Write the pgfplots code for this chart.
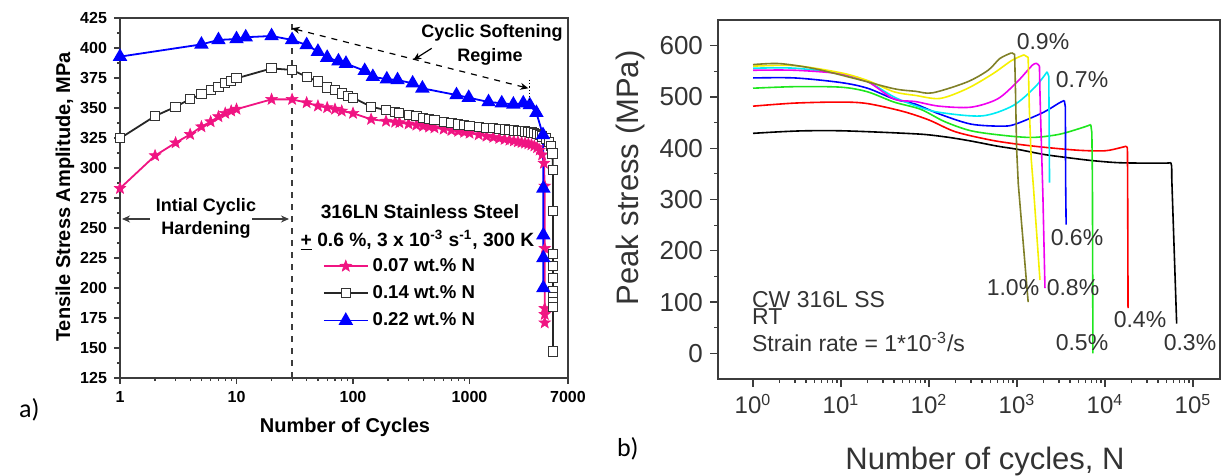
\documentclass[border=0pt]{standalone}
\usepackage{pgfplots}
\pgfplotsset{compat=1.18}
\usepackage{fontspec}
\setmainfont{Liberation Sans}
\newfontfamily\calibri{Carlito}
\usetikzlibrary{arrows.meta}

\definecolor{pinkc}{RGB}{240,20,130}
\definecolor{olivec}{RGB}{128,128,40}
\definecolor{yelc}{RGB}{245,240,0}
\definecolor{grnc}{RGB}{30,230,30}
\definecolor{cyc}{RGB}{0,235,245}
\definecolor{magc}{RGB}{240,0,240}
\definecolor{bluec}{RGB}{0,0,255}
\definecolor{redc}{RGB}{255,0,0}
\definecolor{axc}{RGB}{60,60,60}

\pgfdeclareplotmark{fstar}{%
 \pgfpathmoveto{\pgfpointpolar{90}{1\pgfplotmarksize}}%
 \pgfpathlineto{\pgfpointpolar{126}{0.42\pgfplotmarksize}}%
 \pgfpathlineto{\pgfpointpolar{162}{1\pgfplotmarksize}}%
 \pgfpathlineto{\pgfpointpolar{198}{0.42\pgfplotmarksize}}%
 \pgfpathlineto{\pgfpointpolar{234}{1\pgfplotmarksize}}%
 \pgfpathlineto{\pgfpointpolar{270}{0.42\pgfplotmarksize}}%
 \pgfpathlineto{\pgfpointpolar{306}{1\pgfplotmarksize}}%
 \pgfpathlineto{\pgfpointpolar{342}{0.42\pgfplotmarksize}}%
 \pgfpathlineto{\pgfpointpolar{18}{1\pgfplotmarksize}}%
 \pgfpathlineto{\pgfpointpolar{54}{0.42\pgfplotmarksize}}%
 \pgfpathclose\pgfusepathqfillstroke}

\begin{document}
\begin{tikzpicture}
\useasboundingbox (0,0) rectangle (610.5pt,238pt);

% ---------------- panel a ----------------
\begin{axis}[
  at={(60pt,49pt)}, anchor=south west, scale only axis,
  width=224pt, height=180pt,
  xmode=log, xmin=1, xmax=7000, ymin=125, ymax=425,
  xtick={1,10,100,1000}, xticklabels={1,10,100,1000},
  extra x ticks={7000}, extra x tick labels={7000},
  ytick={125,150,...,425}, minor y tick num=1,
  tick align=outside, xtick pos=bottom, ytick pos=left,
  major tick length=3pt, minor tick length=1.6pt,
  tick label style={font=\fontsize{8}{9}\selectfont\bfseries},
  /pgf/number format/assume math mode=true,
  axis line style={line width=0.8pt, axc},
  every tick/.style={axc, line width=0.6pt},
  legend style={at={(0.452,0.345)}, anchor=north west, draw=none, fill=none,
    font=\fontsize{9.3}{10}\selectfont\bfseries, row sep=1.6pt, inner sep=0pt},
  legend cell align=left,
  legend image code/.code={\draw[mark repeat=2,mark phase=2,#1] plot coordinates {(0pt,0pt) (11pt,0pt) (22pt,0pt)};},
]
\addplot[pinkc, line width=0.9pt, mark=fstar, mark size=3pt, mark options={solid,fill=pinkc,line width=0.3pt}] coordinates {
(1,283)(2,310.3)(3,321)(4,328)(5,334.4)(6,338.6)(7,342.8)(8,345.6)(9,347.5)(10,349)(20,357.2)(30,357.2)(40,354.4)(50,351.7)(60,350.3)(70,349)(80,347.5)(100,345.6)(143,340.6)(192,339)(230,338.3)(250,337.8)(300,336.7)(350,335.7)(400,334.9)(450,334.2)(500,333.5)(600,332.4)(700,331.4)(800,330.6)(900,329.8)(1000,329.0)(1200,327.7)(1400,326.5)(1600,325.6)(1800,324.7)(2000,323.9)(2200,323.2)(2400,322.6)(2600,321.9)(2800,321.3)(3000,320.8)(3200,320.2)(3400,319.4)(3600,318.4)(3800,317.0)(4000,315.0)(4200,311)(4350,304)(4420,285)(4420,233)(4420,183)(4420,178)(4420,171)};
\addlegendentry{0.07 wt.\% N}
\addplot[black!85, line width=0.9pt, mark=square*, mark size=2.3pt, mark options={solid,fill=white,draw=black!80,line width=0.5pt}] coordinates {
(1,324.7)(2,343.3)(3,351)(4,357.5)(5,361.4)(6,365)(7,367.8)(8,370.6)(9,372.5)(10,374.7)(20,383)(30,381.7)(40,376)(50,372)(60,367)(70,365)(80,362)(90,360)(100,358.6)(143,351)(192,348.3)(230,346.4)(250,345.7)(300,344.2)(350,343.0)(400,341.9)(450,340.9)(500,340.1)(600,338.6)(700,337.3)(800,336.2)(900,335.5)(1000,335.0)(1200,334.2)(1400,333.6)(1600,333.0)(1800,332.5)(2000,332.1)(2200,331.7)(2400,331.3)(2600,331.0)(2800,330.7)(3000,330.4)(3200,330.0)(3400,329.5)(3600,329.0)(3800,328.2)(4000,327.3)(4200,326.3)(4500,324.5)(4800,321.5)(5000,318.5)(5150,312)(5200,298)(5200,264)(5200,228)(5200,218)(5200,208)(5200,197)(5200,192)(5200,188)(5200,184)(5200,147)};
\addlegendentry{0.14 wt.\% N}
\addplot[bluec, line width=0.9pt, mark=triangle*, mark size=3.3pt, mark options={solid,fill=bluec}] coordinates {
(1,392.8)(5,403)(7,406.7)(10,407.5)(12,409)(20,410)(30,406.7)(40,402.5)(50,397)(60,392)(75,389)(87,387)(126,381)(148,376)(195,374)(241,373.3)(325,370.6)(394,366.4)(773,360.8)(984,358.6)(1456,355)(1891,354)(2378,353)(2893,354)(3290,352.5)(3750,346)(4272,327.5)(4300,283)(4300,244)(4300,225)(4300,200)};
\addlegendentry{0.22 wt.\% N}
\draw[axc, dashed, line width=0.7pt] (axis cs:30,125) -- (axis cs:30,425);
\end{axis}

% annotations panel a
\node[font=\fontsize{9}{10}\selectfont\bfseries] at (103pt,134.7pt) {Intial Cyclic};
\node[font=\fontsize{9}{10}\selectfont\bfseries] at (103pt,123pt) {Hardening};
\draw[-{Stealth[length=4pt,width=3.5pt]}, axc, line width=0.6pt] (75pt,128.5pt) -- (61pt,128.5pt);
\draw[-{Stealth[length=4pt,width=3.5pt]}, axc, line width=0.6pt] (126pt,128.5pt) -- (144.5pt,128.5pt);
\node[font=\fontsize{9.6}{10}\selectfont\bfseries] at (210pt,132pt) {316LN Stainless Steel};
\node[font=\fontsize{9.6}{10}\selectfont\bfseries] at (208.75pt,118pt) {\underline{+} 0.6 \%, 3 x 10\textsuperscript{-3} s\textsuperscript{-1}, 300 K};
\node[font=\fontsize{9}{10}\selectfont\bfseries] at (246pt,221.5pt) {Cyclic Softening};
\node[font=\fontsize{9}{10}\selectfont\bfseries] at (245pt,209.5pt) {Regime};
\draw[{Stealth[length=4pt,width=3.5pt]}-{Stealth[length=4pt,width=3.5pt]}, black, dashed, line width=0.6pt] (145.85pt,223.85pt) -- (264.15pt,193.85pt);
\draw[black, densely dotted, line width=0.6pt] (264.75pt,198pt) -- (264.75pt,188pt);
\draw[-{Stealth[length=4pt,width=3.5pt]}, black, line width=0.6pt] (215.85pt,213.85pt) -- (206.65pt,208pt);
\node[font=\fontsize{10}{11}\selectfont\bfseries, anchor=base] at (172.5pt,21.5pt) {Number of Cycles};
\node[font=\fontsize{10}{11}\selectfont\bfseries, anchor=base, rotate=90] at (35pt,139.5pt) {Tensile Stress Amplitude, MPa};
\node[font=\calibri\fontsize{13}{14}\selectfont, anchor=base west] at (6pt,29pt) {a)};

% ---------------- panel b ----------------
\begin{axis}[
  at={(359pt,48.5pt)}, anchor=south west, scale only axis,
  width=251pt, height=179.5pt,
  xmode=log, xmin=0.4, xmax=2.03e5, ymin=-50, ymax=650,
  xtick={1,10,100,1000,10000,100000},
  xticklabels={10\textsuperscript{0},10\textsuperscript{1},10\textsuperscript{2},10\textsuperscript{3},10\textsuperscript{4},10\textsuperscript{5}},
  ytick={0,100,...,600}, minor y tick num=1,
  tick align=outside, xtick pos=bottom, ytick pos=left,
  major tick length=4pt, minor tick length=2pt,
  yticklabel style={font=\fontsize{13}{14}\selectfont, text=black!80},
  xticklabel style={font=\fontsize{12}{13}\selectfont, text=black!80},
  /pgf/number format/assume math mode=true,
  axis line style={line width=0.8pt, axc},
  every tick/.style={axc, line width=0.6pt},
]
% 0.3 %
\addplot[black, line width=0.8pt, smooth, tension=0.5] coordinates {(1,429)(2,432)(4,434)(10,434)(30,431)(70,428)(100,426)(170,421)(300,414)(600,404)(1000,398)(2000,388)(3600,382)(7000,376)(13400,372)(25000,371)(50000,371)(56000,372)};
\addplot[black, line width=0.8pt] coordinates {(56000,372)(57300,365)(57500,339)(65300,58)};
% 0.4 %
\addplot[redc, line width=0.8pt, smooth, tension=0.5] coordinates {(1,482)(3,488)(10,490)(20,487)(50,472)(100,455)(200,432)(500,416)(1000,408)(2000,402)(5000,396)(10000,395)(15000,401)(17500,404)};
\addplot[redc, line width=0.8pt] coordinates {(17500,404)(18000,400)(18100,339)(18300,88)};
% 0.5 %
\addplot[grnc, line width=0.8pt, smooth, tension=0.5] coordinates {(1,517)(3,520)(10,519)(20,510)(40,490)(80,476)(150,452)(300,434)(700,425)(1500,421)(3000,427)(5500,440)(6900,446)};
\addplot[grnc, line width=0.8pt] coordinates {(6900,446)(7100,430)(7200,339)(7300,0)};
% 0.6 %
\addplot[bluec, line width=0.8pt, smooth, tension=0.5] coordinates {(1,537)(3,537)(10,528)(20,517)(40,496)(70,486)(130,467)(300,447)(700,443)(1000,448)(2000,470)(3000,488)(3450,493)};
\addplot[bluec, line width=0.8pt] coordinates {(3450,493)(3550,480)(3570,339)(3620,251)};
% 0.7 %
\addplot[cyc, line width=0.8pt, smooth, tension=0.5] coordinates {(1,556)(3,556)(10,545)(20,530)(40,500)(70,483)(130,470)(400,463)(900,483)(1600,519)(2200,549)};
\addplot[cyc, line width=0.8pt] coordinates {(2200,549)(2300,540)(2330,400)(2345,333)};
% 0.8 %
\addplot[magc, line width=0.8pt, smooth, tension=0.5] coordinates {(1,552)(3,552)(10,545)(20,530)(40,496)(70,491)(130,482)(300,480)(600,496)(1000,529)(1500,562)(1700,565)};
\addplot[magc, line width=0.8pt] coordinates {(1700,565)(1800,560)(1830,500)(1900,400)(1970,310)(2080,127)};
% 0.9 %
\addplot[yelc, line width=0.8pt, smooth, tension=0.5] coordinates {(1,560)(3,561)(10,547)(20,532)(40,510)(70,503)(133,497)(270,516)(530,545)(870,571)(1200,582)};
\addplot[yelc, line width=0.8pt] coordinates {(1200,582)(1340,577)(1380,480)(1450,380)(1530,330)(1825,143)};
% 1.0 %
\addplot[olivec, line width=0.8pt, smooth, tension=0.5] coordinates {(1,563)(2,565)(5,555)(15,535)(40,516)(70,511)(110,508)(270,529)(470,552)(640,575)(870,586)};
\addplot[olivec, line width=0.8pt] coordinates {(870,586)(940,583)(960,520)(990,400)(1035,330)(1340,100)};
\end{axis}

% labels panel b
\begin{scope}[every node/.style={font=\fontsize{11.5}{12}\selectfont, text=black!80}]
\node at (521.5pt,217pt) {0.9\%};
\node at (541pt,198pt) {0.7\%};
\node at (538.5pt,119pt) {0.6\%};
\node at (506.5pt,94pt) {1.0\%};
\node at (536.5pt,94pt) {0.8\%};
\node at (570pt,78pt) {0.4\%};
\node at (541pt,66.5pt) {0.5\%};
\node at (595pt,66.5pt) {0.3\%};
\node[anchor=west] at (372.5pt,88pt) {CW 316L SS};
\node[anchor=west] at (372.5pt,79.5pt) {RT};
\node[anchor=west] at (372.5pt,67pt) {Strain rate = 1*10\textsuperscript{-3}/s};
\end{scope}
\node[font=\fontsize{15.5}{16}\selectfont, text=black!80, anchor=base] at (492.5pt,3pt) {Number of cycles, N};
\node[font=\fontsize{15.5}{16}\selectfont, text=black!80, anchor=base, rotate=90] at (319pt,149pt) {Peak stress (MPa)};
\node[font=\calibri\fontsize{13}{14}\selectfont, anchor=base west] at (305pt,9.5pt) {b)};
\end{tikzpicture}
\end{document}
